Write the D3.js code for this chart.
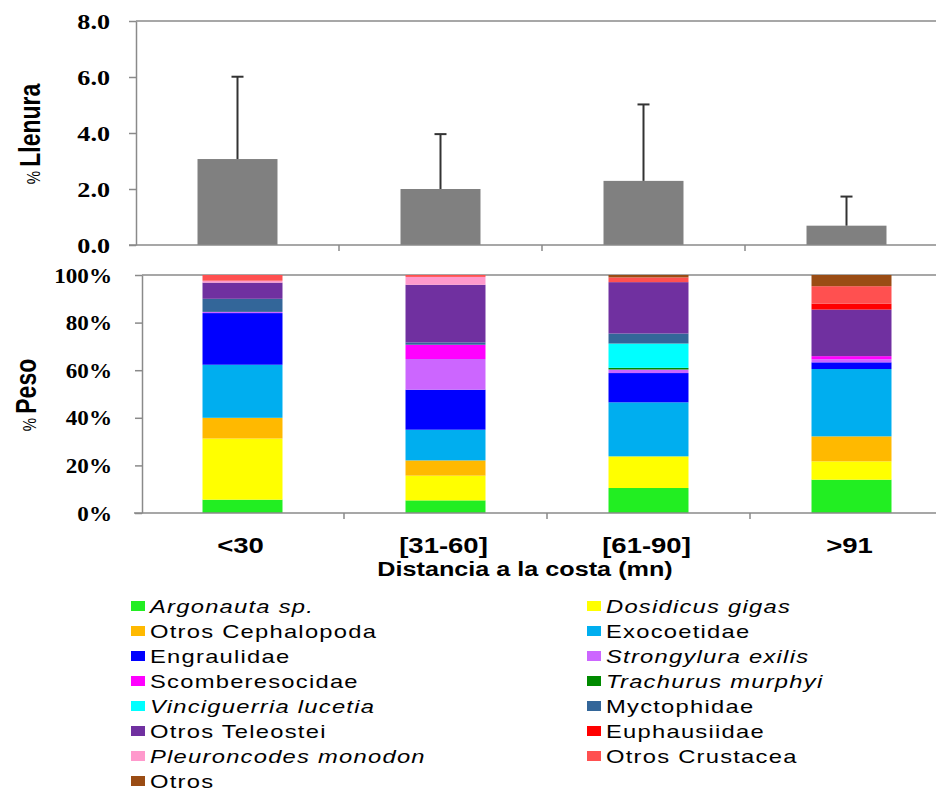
<!DOCTYPE html>
<html>
<head>
<meta charset="utf-8">
<script src="https://cdn.jsdelivr.net/npm/d3@7"></script>
<style>
  body { margin: 0; background: #fff; }
  svg { display: block; }
  .tick-num { font-family: "Liberation Serif", "Times New Roman", serif; font-weight: bold; font-size: 22px; fill: #000; }
  .lbl { font-family: "Liberation Sans", Arial, sans-serif; font-weight: bold; fill: #000; }
  .leg { font-family: "Liberation Sans", Arial, sans-serif; font-size: 19px; letter-spacing: 1px; fill: #000; }
</style>
</head>
<body>
<svg id="chart" width="936" height="792"></svg>
<script>
// distance classes (mn)
const categories = ["<30", "[31-60]", "[61-90]", ">91"];

// % Llenura: mean and standard deviation
const llenuraMean = [3.07, 2.0, 2.29, 0.69];
const llenuraSd = [2.94, 1.96, 2.73, 1.04];

// prey groups, in stacking order (bottom to top)
const preyNames = [
  "Argonauta sp.", "Dosidicus gigas", "Otros Cephalopoda", "Exocoetidae",
  "Engraulidae", "Strongylura exilis", "Scomberesocidae", "Trachurus murphyi",
  "Vinciguerria lucetia", "Myctophidae", "Otros Teleostei", "Euphausiidae",
  "Pleuroncodes monodon", "Otros Crustacea", "Otros",
];
const preyColors = [
  "#22ee22", "#ffff00", "#ffb900", "#00aeef",
  "#0000ff", "#cc66ff", "#ff00ff", "#008a00",
  "#00ffff", "#336699", "#7030a0", "#ff0000",
  "#ff99cc", "#ff5050", "#9a4c14",
];
const preyItalic = [
  true, true, false, false,
  false, true, false, true,
  true, false, false, false,
  true, false, false,
];

// % Peso per distance class, aligned with preyNames
const pesoMenos30 = [5.6, 25.7, 8.7, 22.3, 21.7, 0.5, 0, 0, 0, 5.5, 6.8, 0, 0.8, 2.4, 0];
const peso31a60 = [5.3, 10.4, 6.4, 12.9, 16.8, 12.9, 6.0, 0, 0, 1.0, 24.2, 0, 3.3, 0.8, 0];
const peso61a90 = [10.5, 13.3, 0, 22.7, 12.3, 1.5, 0, 0.7, 10.2, 4.2, 21.6, 0, 0, 2.0, 1.0];
const pesoMas91 = [14.0, 7.7, 10.5, 28.3, 2.8, 1.3, 1.3, 0, 0, 0, 19.6, 2.5, 0, 7.3, 4.7];

const SX = 1.25; // the original picture is stretched horizontally
const axisColor = "#8a8a8a";

const svg = d3.select("#chart");

// ---------- top panel: % Llenura ----------
const xTop = d3.scaleBand().domain(categories).range([136, 948])
  .paddingInner(0.606).paddingOuter(0.303);
const yTop = d3.scaleLinear().domain([0, 8]).range([245, 21]);

const topPanel = svg.append("g");

topPanel.append("line")
  .attr("x1", xTop.range()[0]).attr("x2", 936)
  .attr("y1", yTop(8)).attr("y2", yTop(8))
  .attr("stroke", axisColor).attr("stroke-width", 1.5);

topPanel.selectAll("rect.bar")
  .data(categories)
  .join("rect")
  .attr("class", "bar")
  .attr("x", (d) => xTop(d))
  .attr("width", xTop.bandwidth())
  .attr("y", (d, i) => yTop(llenuraMean[i]))
  .attr("height", (d, i) => yTop(0) - yTop(llenuraMean[i]))
  .attr("fill", "#808080");

const err = topPanel.selectAll("g.err")
  .data(categories)
  .join("g")
  .attr("class", "err")
  .attr("stroke", "#333")
  .attr("stroke-width", 2);
err.append("line")
  .attr("x1", (d) => xTop(d) + xTop.bandwidth() / 2)
  .attr("x2", (d) => xTop(d) + xTop.bandwidth() / 2)
  .attr("y1", (d, i) => yTop(llenuraMean[i]))
  .attr("y2", (d, i) => yTop(llenuraMean[i] + llenuraSd[i]));
err.append("line")
  .attr("x1", (d) => xTop(d) + xTop.bandwidth() / 2 - 6)
  .attr("x2", (d) => xTop(d) + xTop.bandwidth() / 2 + 6)
  .attr("y1", (d, i) => yTop(llenuraMean[i] + llenuraSd[i]))
  .attr("y2", (d, i) => yTop(llenuraMean[i] + llenuraSd[i]));

const yTopAxis = topPanel.append("g")
  .attr("transform", `translate(${xTop.range()[0]},0)`)
  .call(d3.axisLeft(yTop).tickValues([0, 2, 4, 6, 8]).tickSize(7).tickSizeOuter(0)
    .tickFormat(d3.format(".1f")));
styleAxis(yTopAxis);
yTopAxis.selectAll("text")
  .attr("class", "tick-num")
  .attr("x", 0)
  .attr("transform", `translate(-26,0) scale(${SX * 0.95},1)`);

drawBottomLine(topPanel, xTop, yTop(0));

rotatedLabel(32, 134, "Llenura");

// ---------- bottom panel: % Peso ----------
const xBot = d3.scaleBand().domain(categories).range([141, 953])
  .paddingInner(0.606).paddingOuter(0.303);
const yBot = d3.scaleLinear().domain([0, 100]).range([513, 275]);

const botPanel = svg.append("g");

botPanel.append("line")
  .attr("x1", 142).attr("x2", 936)
  .attr("y1", yBot(100)).attr("y2", yBot(100))
  .attr("stroke", axisColor).attr("stroke-width", 1.5);

const pesoRows = [pesoMenos30, peso31a60, peso61a90, pesoMas91];
const stackData = categories.map((c, j) => ({ cat: c, values: pesoRows[j] }));
const series = d3.stack()
  .keys(d3.range(preyNames.length))
  .value((d, k) => d.values[k])(stackData);

botPanel.selectAll("g.layer")
  .data(series)
  .join("g")
  .attr("class", "layer")
  .attr("fill", (s) => preyColors[s.key])
  .selectAll("rect")
  .data((s) => s.filter((d) => d[1] > d[0]))
  .join("rect")
  .attr("x", (d) => xBot(d.data.cat))
  .attr("width", xBot.bandwidth())
  .attr("y", (d) => yBot(d[1]))
  .attr("height", (d) => yBot(d[0]) - yBot(d[1]));

const yBotAxis = botPanel.append("g")
  .attr("transform", "translate(142,0)")
  .call(d3.axisLeft(yBot).tickValues([0, 20, 40, 60, 80, 100]).tickSize(7).tickSizeOuter(0)
    .tickFormat((d) => d + "%"));
styleAxis(yBotAxis);
yBotAxis.selectAll("text")
  .attr("class", "tick-num")
  .attr("x", 0)
  .attr("transform", "translate(-30,0) scale(1.05,1)");

drawBottomLine(botPanel, xBot, yBot(0));

botPanel.selectAll("text.cat")
  .data(categories)
  .join("text")
  .attr("class", "lbl cat")
  .attr("font-size", 22)
  .attr("text-anchor", "middle")
  .attr("transform", (d) => `translate(${xBot(d) + xBot.bandwidth() / 2 - 2},553) scale(${SX},1)`)
  .text((d) => d);

botPanel.append("text")
  .attr("class", "lbl")
  .attr("font-size", 21)
  .attr("text-anchor", "middle")
  .attr("transform", `translate(525,576) scale(${SX * 0.96},1)`)
  .text("Distancia a la costa (mn)");

rotatedLabel(28, 395, "Peso");

// ---------- legend ----------
const legend = svg.append("g");
const legendItems = preyNames.map((name, i) => ({
  name, i,
  col: i % 2,
  row: Math.floor(i / 2),
}));
const colX = [131, 587];
const leg = legend.selectAll("g.item")
  .data(legendItems)
  .join("g")
  .attr("class", "item")
  .attr("transform", (d) => `translate(${colX[d.col]},${606 + d.row * 25})`);
leg.append("rect")
  .attr("x", 0).attr("y", -5)
  .attr("width", 14).attr("height", 10)
  .attr("fill", (d) => preyColors[d.i]);
leg.append("text")
  .attr("class", "leg")
  .attr("font-style", (d) => (preyItalic[d.i] ? "italic" : "normal"))
  .attr("transform", `translate(19,7) scale(${SX},1)`)
  .text((d) => d.name);

// ---------- helpers ----------
function styleAxis(g) {
  g.select(".domain").attr("stroke", axisColor).attr("stroke-width", 1.5);
  g.selectAll(".tick line").attr("stroke", axisColor).attr("stroke-width", 1.5);
}

function drawBottomLine(g, x, y0) {
  const r = x.range();
  g.append("line")
    .attr("x1", r[0] - 7).attr("x2", 936)
    .attr("y1", y0).attr("y2", y0)
    .attr("stroke", axisColor).attr("stroke-width", 1.5);
  g.selectAll("line.xtick")
    .data(d3.range(1, categories.length))
    .join("line")
    .attr("class", "xtick")
    .attr("x1", (i) => r[0] + x.step() * i)
    .attr("x2", (i) => r[0] + x.step() * i)
    .attr("y1", y0).attr("y2", y0 + 6)
    .attr("stroke", axisColor).attr("stroke-width", 1.5);
}

function rotatedLabel(cx, cy, word) {
  const t = svg.append("text")
    .attr("class", "lbl")
    .attr("text-anchor", "middle")
    .attr("transform", `translate(${cx + 8},${cy}) rotate(-90) scale(1,${SX})`);
  t.append("tspan").attr("font-size", 15).attr("font-weight", "normal").text("% ");
  t.append("tspan").attr("font-size", 23).text(word);
}
</script>
</body>
</html>
